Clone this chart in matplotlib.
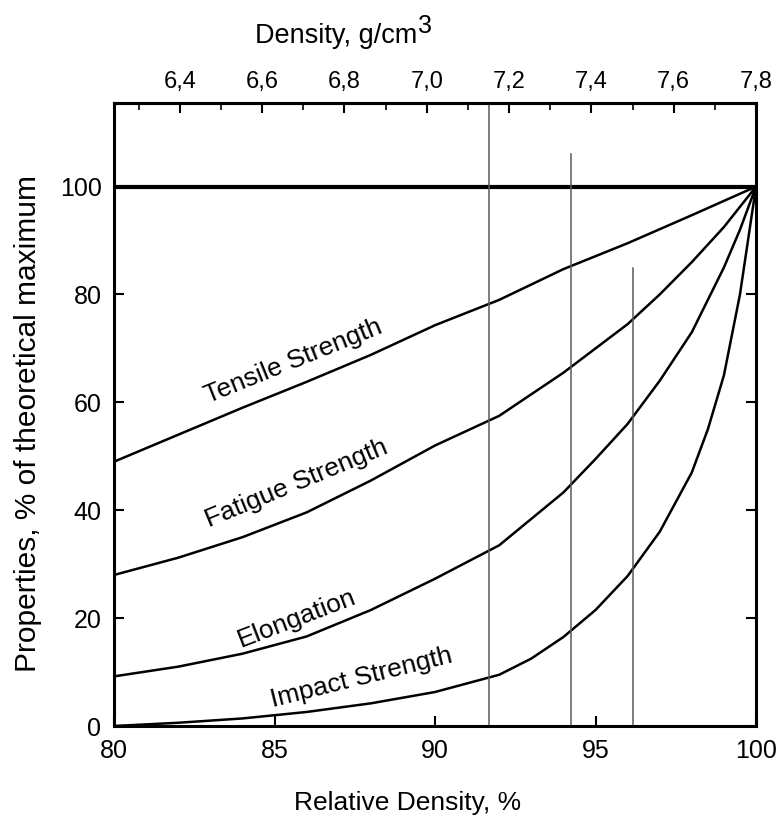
import matplotlib
matplotlib.use("Agg")
import matplotlib.pyplot as plt
from matplotlib.ticker import MultipleLocator, FixedLocator

plt.rcParams['font.family'] = ['Liberation Sans', 'DejaVu Sans']

# ---- data ----
tensile_x = [80, 82, 84, 86, 88, 90, 92, 94, 96, 98, 100]
tensile_y = [49, 54, 59, 63.8, 68.8, 74.3, 79, 84.7, 89.5, 94.7, 100]

fatigue_x = [80, 82, 84, 86, 88, 90, 92, 94, 96, 97, 98, 99, 100]
fatigue_y = [28, 31.2, 35, 39.6, 45.5, 52, 57.5, 65.5, 74.5, 80, 86, 92.5, 100]

elong_x = [80, 82, 84, 86, 88, 90, 92, 94, 95, 96, 97, 98, 99, 99.5, 100]
elong_y = [9.2, 11, 13.4, 16.6, 21.5, 27.3, 33.5, 43.3, 49.5, 56, 64, 73, 85, 92, 100]

impact_x = [80, 82, 84, 86, 88, 90, 92, 93, 94, 95, 96, 97, 98, 98.5, 99, 99.5, 100]
impact_y = [0, 0.6, 1.4, 2.6, 4.2, 6.3, 9.5, 12.5, 16.5, 21.5, 27.8, 36, 47, 55, 65, 80, 100]

curve_labels = ["Tensile Strength", "Fatigue Strength", "Elongation", "Impact Strength"]
label_x = [85.6, 85.7, 85.7, 87.7]
label_y = [67.6, 45.0, 20.0, 8.9]
label_rot = [22, 22.5, 21, 14]

# reference densities (g/cm3) marked by vertical lines, and their top extent (%)
ref_density = [7.15, 7.35, 7.5]
ref_top = [115.5, 106, 85]

full_density = 7.8
x_ticks = [80, 85, 90, 95, 100]
y_ticks = [0, 20, 40, 60, 80, 100]
top_ticks = [6.4, 6.6, 6.8, 7.0, 7.2, 7.4, 7.6, 7.8]
top_tick_labels = ["6,4", "6,6", "6,8", "7,0", "7,2", "7,4", "7,6", "7,8"]

# ---- figure ----
W, H = 776, 823
fig = plt.figure(figsize=(W/100, H/100), dpi=100)
ax = fig.add_axes([114/W, 1-726/H, (756-114)/W, (726-103)/H])
ax.set_xlim(80, 100)
ax.set_ylim(0, 115.5)

lw = 1.8
ax.plot(tensile_x, tensile_y, color='black', lw=lw)
ax.plot(fatigue_x, fatigue_y, color='black', lw=lw)
ax.plot(elong_x, elong_y, color='black', lw=lw)
ax.plot(impact_x, impact_y, color='black', lw=lw)

ax.axhline(100, color='black', lw=3)

for d, t in zip(ref_density, ref_top):
    xr = d / full_density * 100
    ax.plot([xr, xr], [0, t], color='#5a5a5a', lw=1.1)

for s, xx, yy, r in zip(curve_labels, label_x, label_y, label_rot):
    ax.text(xx, yy, s, rotation=r, fontsize=19, ha='center', va='center',
            rotation_mode='anchor')

for sp in ax.spines.values():
    sp.set_linewidth(2.2)

ax.set_xticks(x_ticks)
ax.set_yticks(y_ticks)
ax.tick_params(axis='both', direction='in', length=7, width=1.5, labelsize=18,
               right=True, pad=9)
ax.set_xlabel("Relative Density, %", fontsize=19)
ax.xaxis.set_label_coords((408-114)/(756-114), -(791-726)/(726-103), transform=ax.transAxes)
ax.set_ylabel("Properties, % of theoretical maximum", fontsize=21.5)
ax.yaxis.set_label_coords(-(114-42)/(756-114), (726-423)/(726-103), transform=ax.transAxes)

# top axis: density in g/cm3
sec = ax.secondary_xaxis('top', functions=(lambda r: r * full_density / 100,
                                           lambda d: d / full_density * 100))
sec.xaxis.set_major_locator(FixedLocator(top_ticks))
sec.set_xticklabels(top_tick_labels)
sec.xaxis.set_minor_locator(MultipleLocator(0.1))
sec.tick_params(axis='x', which='major', direction='in', length=7, width=1.5,
                labelsize=17, pad=7)
sec.tick_params(axis='x', which='minor', direction='in', length=5, width=1.2)
sec.spines['top'].set_linewidth(2.2)

# top title with large superscript
t1 = fig.text(255/W, 1-36/H, "Density, g/cm", fontsize=19.5, ha='left', va='center')
fig.canvas.draw()
bb = t1.get_window_extent()
fig.text(bb.x1/W + 1/W, 1-26/H, "3", fontsize=18, ha='left', va='center')

fig.savefig("out.png", dpi=100)
